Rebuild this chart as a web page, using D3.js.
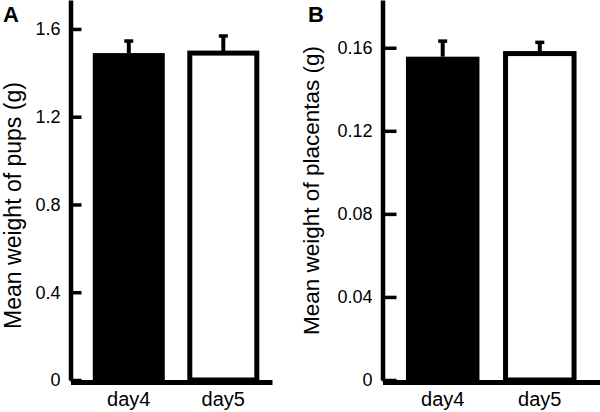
<!DOCTYPE html>
<html>
<head>
<meta charset="utf-8">
<script src="https://cdn.jsdelivr.net/npm/d3@7"></script>
<style>
  body { margin: 0; background: #ffffff; }
  svg { display: block; }
</style>
</head>
<body>
<script>
// Data
const DAYS            = ['day4', 'day5'];
const PUP_MEANS       = [1.49, 1.49];
const PUP_ERR         = [0.055, 0.078];
const PUP_TICKS       = [0, 0.4, 0.8, 1.2, 1.6];
const PLACENTA_MEANS  = [0.1557, 0.1572];
const PLACENTA_ERR    = [0.0075, 0.0054];
const PLACENTA_TICKS  = [0, 0.04, 0.08, 0.12, 0.16];

// Dimensions + colors
const WIDTH  = 600;
const HEIGHT = 412;
const BG = '#ffffff';
const FG = '#000000';
const FONT = "'Liberation Sans', Arial, Helvetica, sans-serif";
const BASE = 380;

var svg = d3.select('body').append('svg')
  .attr('width', WIDTH)
  .attr('height', HEIGHT);

svg.append('rect')
  .attr('width', WIDTH)
  .attr('height', HEIGHT)
  .attr('fill', BG);

// one panel = y axis + two bars with upper error bars
function panel(opt) {
  const y = d3.scaleLinear()
    .domain([0, opt.top])
    .range([BASE, 0]);

  const x = d3.scaleBand()
    .domain(DAYS)
    .range([opt.left, opt.right])
    .paddingInner(opt.pi)
    .paddingOuter(opt.po)
    .align(opt.align);

  const g = svg.append('g');

  // bars
  g.selectAll('.bar')
    .data(opt.means)
    .join('rect')
    .attr('class', 'bar')
    .attr('x', (d, i) => x(DAYS[i]) + (i ? 2.5 : 0))
    .attr('width', (d, i) => x.bandwidth() - (i ? 5 : 0))
    .attr('y', d => y(d))
    .attr('height', d => BASE - y(d))
    .attr('fill', (d, i) => i ? BG : FG)
    .attr('stroke', (d, i) => i ? FG : 'none')
    .attr('stroke-width', 5);

  // error bars (upper half only)
  const cx = i => x(DAYS[i]) + x.bandwidth() / 2;
  g.selectAll('.stem')
    .data(opt.means)
    .join('line')
    .attr('x1', (d, i) => cx(i))
    .attr('x2', (d, i) => cx(i))
    .attr('y1', d => y(d))
    .attr('y2', (d, i) => y(d + opt.err[i]))
    .attr('stroke', FG)
    .attr('stroke-width', 4);
  g.selectAll('.cap')
    .data(opt.means)
    .join('line')
    .attr('x1', (d, i) => cx(i) - 4.5)
    .attr('x2', (d, i) => cx(i) + 4.5)
    .attr('y1', (d, i) => y(d + opt.err[i]))
    .attr('y2', (d, i) => y(d + opt.err[i]))
    .attr('stroke', FG)
    .attr('stroke-width', 3.5);

  // y axis, ticks pointing inward
  g.append('g')
    .attr('transform', `translate(${opt.left},0)`)
    .call(d3.axisLeft(y)
      .tickValues(opt.ticks)
      .tickFormat(d => String(d))
      .tickSizeInner(-opt.tick)
      .tickSizeOuter(0)
      .tickPadding(10))
    .call(a => a.select('.domain').attr('stroke-width', 4.5))
    .call(a => a.selectAll('.tick line').attr('stroke-width', 3.5))
    .call(a => a.selectAll('text')
      .attr('font-family', FONT)
      .attr('font-size', '18px')
      .attr('fill', FG));

  // x axis
  g.append('g')
    .attr('transform', `translate(0,${BASE + 2})`)
    .call(d3.axisBottom(x).tickSize(0).tickPadding(10))
    .call(a => a.select('.domain').attr('stroke-width', 5))
    .call(a => a.selectAll('text')
      .attr('font-family', FONT)
      .attr('font-size', '20px')
      .attr('fill', FG));

  // y label
  g.append('text')
    .attr('transform', `translate(${opt.labelX},${opt.labelY}) rotate(-90)`)
    .attr('text-anchor', 'middle')
    .attr('font-family', FONT)
    .attr('font-size', opt.labelSize)
    .attr('fill', FG)
    .text(opt.label);

  // panel letter
  g.append('text')
    .attr('x', opt.letterX)
    .attr('y', 22)
    .attr('font-family', FONT)
    .attr('font-weight', 'bold')
    .attr('font-size', '22px')
    .attr('fill', FG)
    .text(opt.letter);
}

panel({
  letter: 'A', letterX: 3,
  label: 'Mean weight of pups (g)', labelX: 21, labelY: 205.5, labelSize: '23px',
  means: PUP_MEANS, err: PUP_ERR, ticks: PUP_TICKS, top: 1.732,
  left: 70.5, right: 272, pi: 0.238, po: 0.185, align: 0.637, tick: 11
});

panel({
  letter: 'B', letterX: 308,
  label: 'Mean weight of placentas (g)', labelX: 318.5, labelY: 190.5, labelSize: '22.5px',
  means: PLACENTA_MEANS, err: PLACENTA_ERR, ticks: PLACENTA_TICKS, top: 0.183,
  left: 382.5, right: 600, pi: 0.243, po: 0.2415, align: 0.5, tick: 14
});
</script>
</body>
</html>
